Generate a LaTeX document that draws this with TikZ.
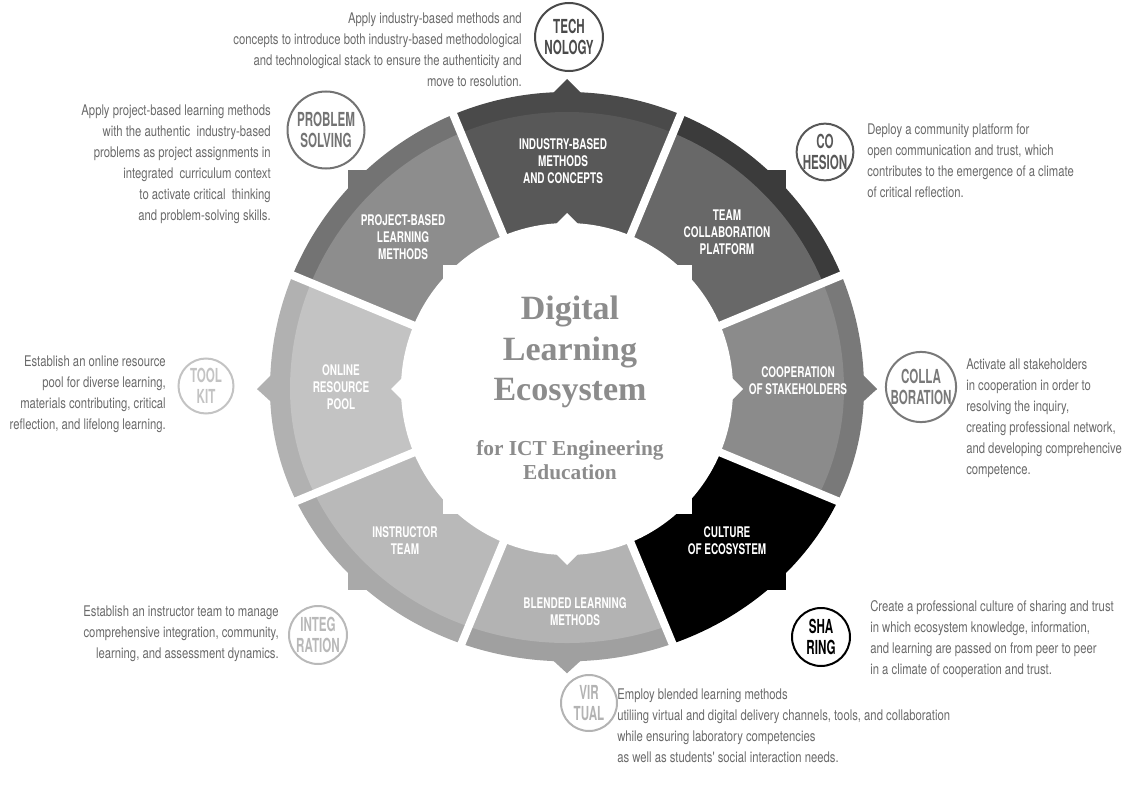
\documentclass[tikz,border=0pt]{standalone}
\usepackage{fontspec}
\setmainfont{Liberation Serif}
\newfontfamily\condfont[FakeStretch=0.68]{TeX Gyre Heros}
\newfontfamily\badgefont[FakeStretch=0.6]{TeX Gyre Heros}
\newfontfamily\descfont[FakeStretch=0.77]{TeX Gyre Heros}
\usetikzlibrary{positioning}

\definecolor{indband}{HTML}{4A4A4A}  \definecolor{indin}{HTML}{585858}
\definecolor{teamband}{HTML}{3B3B3B} \definecolor{teamin}{HTML}{686868}
\definecolor{coopband}{HTML}{797979} \definecolor{coopin}{HTML}{8B8B8B}
\definecolor{cultband}{HTML}{000000} \definecolor{cultin}{HTML}{000000}
\definecolor{blendband}{HTML}{A0A0A0} \definecolor{blendin}{HTML}{B3B3B3}
\definecolor{instband}{HTML}{A9A9A9} \definecolor{instin}{HTML}{B9B9B9}
\definecolor{onlband}{HTML}{B1B1B1}  \definecolor{onlin}{HTML}{C3C3C3}
\definecolor{projband}{HTML}{737373} \definecolor{projin}{HTML}{8D8D8D}
\definecolor{desctext}{HTML}{6A6A6A}
\definecolor{titlegray}{HTML}{8C8C8C}

% outer star-ring shape: circle + square + diamond, inner shade circle
\newcommand{\segshape}[2]{%
  \fill[#1] (0,0) circle (297);
  \fill[#1] (-219,-219) rectangle (219,219);
  \fill[#1] (310,0) -- (0,310) -- (-310,0) -- (0,-310) -- cycle;
  \fill[#2] (0,0) circle (277);}

\begin{document}
\begin{tikzpicture}[x=0.75pt, y=-0.75pt,
  seglabel/.style={text=white, font=\condfont\bfseries\fontsize{11}{12.75}\selectfont, align=center, inner sep=0pt},
  desc/.style={text=desctext, font=\descfont\fontsize{11}{15.8}\selectfont, inner sep=0pt},
  badge/.style={circle, draw=#1, text=#1, line width=1.5pt, font=\badgefont\bfseries\fontsize{14.5}{15.5}\selectfont, align=center, inner sep=0pt}]
  \useasboundingbox (0,0) rectangle (1136,799);

  % Ring segments (upper half round, lower half a bit flatter)
  \begin{scope}[shift={(567,389)}]
    \foreach \t/\band/\inner in {270/indband/indin, 315/teamband/teamin, 0/coopband/coopin,
        45/cultband/cultin, 90/blendband/blendin, 135/instband/instin, 180/onlband/onlin, 225/projband/projin} {
      \begin{scope}
        \clip (0,0) -- (\t-22.5:450) -- (\t:450) -- (\t+22.5:450) -- cycle;
        \begin{scope}
          \clip (-400,-400) rectangle (400,0);
          \segshape{\band}{\inner}
        \end{scope}
        \begin{scope}[yscale=0.917]
          \clip (-400,0) rectangle (400,400);
          \segshape{\band}{\inner}
        \end{scope}
      \end{scope}
    }

    % White hub
    \fill[white] (0,0) circle (166);
    \fill[white] (-124.5,-124.5) rectangle (124.5,124.5);
    \fill[white] (176,0) -- (0,176) -- (-176,0) -- (0,-176) -- cycle;

    % Gaps between segments
    \foreach \g in {22.5,67.5,...,337.5}
      \draw[white, line width=6pt] (0,0) -- (\g:340);
  \end{scope}

  % Segment labels
  \node[seglabel] (industry) at (563,161) {INDUSTRY-BASED\\METHODS\\AND CONCEPTS};
  \node[seglabel] (team) at (727,232) {TEAM\\COLLABORATION\\PLATFORM};
  \node[seglabel] (coop) at (798,381) {COOPERATION\\OF STAKEHOLDERS};
  \node[seglabel] (culture) at (727,541) {CULTURE\\OF ECOSYSTEM};
  \node[seglabel] (blended) at (575,612) {BLENDED LEARNING\\METHODS};
  \node[seglabel] (instructor) at (405,541) {INSTRUCTOR\\TEAM};
  \node[seglabel] (online) at (341,387) {ONLINE\\RESOURCE\\POOL};
  \node[seglabel] (project) at (403,237) {PROJECT-BASED\\LEARNING\\METHODS};

  % Title
  \node[text=titlegray, font=\bfseries\fontsize{25.5}{30.4}\selectfont, align=center] (title) at (570,352) {Digital\\Learning\\Ecosystem};
  \node[text=titlegray, font=\bfseries\fontsize{16}{18}\selectfont, align=center] (subtitle) at (570,460) {for ICT Engineering\\Education};

  % Badges
  \node[badge=indband, minimum size=51pt] (tech) at (569,37) {TECH\\NOLOGY};
  \node[badge=teamband!85!white, minimum size=41.25pt] (cohesion) at (825,152) {CO\\HESION};
  \node[badge=coopband, minimum size=49.5pt] (collab) at (921,387) {COLLA\\BORATION};
  \node[badge=black, minimum size=43.5pt] (sharing) at (821,637) {SHA\\RING};
  \node[badge=blendin, minimum size=42pt] (virtual) at (589,703) {VIR\\TUAL};
  \node[badge=instin, minimum size=43.5pt] (integ) at (318,635) {INTEG\\RATION};
  \node[badge=onlin, minimum size=41.25pt] (toolkit) at (206,386) {TOOL\\KIT};
  \node[badge=projband, minimum size=57.75pt] (problem) at (326,130) {PROBLEM\\SOLVING};

  % Descriptions
  \node[desc, align=right, anchor=east] (techtext) at (522,50) {Apply industry-based methods and\ \\concepts to introduce both industry-based methodological\\and technological stack to ensure the authenticity and\\move to resolution.};
  \node[desc, align=right, anchor=east] (problemtext) at (271,164) {Apply project-based learning methods\\with the authentic\ \ industry-based\\problems as project assignments in\\integrated\ \ curriculum context\\to activate critical\ \ thinking\\and problem-solving skills.};
  \node[desc, align=left, anchor=west] (cohesiontext) at (867,161) {Deploy a community platform for\\open communication and trust, which\\contributes to the emergence of a climate\\of critical reflection.};
  \node[desc, align=right, anchor=east] (toolkittext) at (166,394) {Establish an online resource\\pool for diverse learning,\\materials contributing, critical\\reflection, and lifelong learning.};
  \node[desc, align=left, anchor=west] (collabtext) at (966,418) {Activate all stakeholders\\in cooperation in order to\\resolving the inquiry,\\creating professional network,\\and developing comprehencive\\competence.};
  \node[desc, align=left, anchor=west] (sharingtext) at (870,639) {Create a professional culture of sharing and trust\\in which ecosystem knowledge, information,\\and learning are passed on from peer to peer\\in a climate of cooperation and trust.};
  \node[desc, align=right, anchor=east] (integtext) at (279,634) {Establish an instructor team to manage\\comprehensive integration, community,\ \\learning, and assessment dynamics.};
  \node[desc, align=left, anchor=west] (virtualtext) at (617,726) {Employ blended learning methods\\utiliing virtual and digital delivery channels, tools, and collaboration\\while ensuring laboratory competencies\\as well as students' social interaction needs.};
\end{tikzpicture}
\end{document}
